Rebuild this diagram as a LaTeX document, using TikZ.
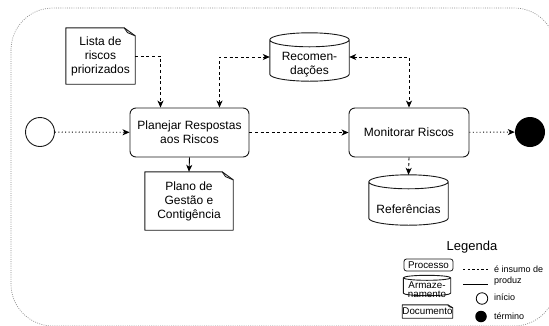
\documentclass[tikz,border=0pt]{standalone}
\usepackage{fontspec}
\setmainfont{Liberation Sans}
\usetikzlibrary{arrows.meta,calc}

% outline of a storage cylinder around node #1, cap half-height #2
\newcommand{\cylout}[2]{%
  \draw[shp] let \p1=(#1.north west), \p2=(#1.south east), \n1={(\x2-\x1)/2} in
    (\x1,\y1-#2) -- (\x1,\y2+#2)
    arc[start angle=180,end angle=360,x radius=\n1,y radius=#2]
    -- (\x2,\y1-#2)
    (\x1+\n1,\y1-#2) ellipse [x radius=\n1,y radius=#2];}

% outline of a document with a folded top-right corner, fold size #2 x #3
\newcommand{\docout}[3]{%
  \draw[shp] (#1.south west) -- (#1.north west) -- ([xshift=-#2]#1.north east)
    -- ([yshift=-#3]#1.north east) -- (#1.south east) -- cycle;
  \draw[shp] ([xshift=-#2]#1.north east) -- ([xshift=-0.7*#2,yshift=-0.6*#3]#1.north east)
    -- ([yshift=-#3]#1.north east);}

\tikzset{
  shp/.style={line width=0.9pt,draw=black!90,line join=round},
  proc/.style={draw=black!90,line width=0.9pt,rounded corners=6pt,align=center,
    font=\fontsize{12}{14}\selectfont,inner sep=0pt},
  blank/.style={inner sep=0pt,align=center},
  maintext/.style={blank,font=\fontsize{12}{14}\selectfont},
  legbox/.style={blank,font=\fontsize{9.8}{9.2}\selectfont},
  legtext/.style={blank,font=\fontsize{9}{9}\selectfont},
  tip/.style={-{Stealth[length=7pt,width=6pt,inset=2pt]}},
  bothtips/.style={{Stealth[length=7pt,width=6pt,inset=2pt]}-{Stealth[length=7pt,width=6pt,inset=2pt]}},
  dash line/.style={line width=0.9pt,dash pattern=on 3pt off 2.6pt},
  dot line/.style={line width=0.9pt,dash pattern=on 1pt off 2.4pt},
  solid line/.style={line width=0.9pt},
  frame/.style={draw=black!45,line width=0.7pt,dash pattern=on 0.9pt off 1.3pt,rounded corners=42pt},
}

\begin{document}
\begin{tikzpicture}[x=1pt,y=-1pt]
\useasboundingbox (0,0) rectangle (549,325);

% dotted surrounding frame
\draw[frame] (11,8) rectangle (556,326);

% start / end events
\node[circle,draw=black!90,line width=0.9pt,minimum size=29pt,inner sep=0pt] (start) at (40,132) {};
\node[circle,fill=black,minimum size=30pt,inner sep=0pt] (end) at (530,132) {};

% processes
\node[proc,minimum width=119pt,minimum height=49pt] (plan) at (189.5,132.5) {Planejar Respostas\\aos Riscos};
\node[proc,minimum width=120pt,minimum height=49pt] (mon) at (409,132.5) {Monitorar Riscos};

% documents
\node[maintext,minimum width=69pt,minimum height=56pt] (lista) at (100.5,56) {Lista de\\riscos\\priorizados};
\docout{lista}{11pt}{8pt}
\node[maintext,minimum width=88pt,minimum height=58pt] (plano) at (189,201) {Plano de\\Gestão e\\Contigência};
\docout{plano}{11pt}{8pt}

% storages
\node[blank,minimum width=79pt,minimum height=48pt] (rec) at (309.5,57) {};
\cylout{rec}{7pt}
\node[maintext] (rectext) at (309.5,64.5) {Recomen-\\dações};
\node[blank,minimum width=79pt,minimum height=50pt] (ref) at (408.5,200) {};
\cylout{ref}{7pt}
\node[maintext] (reftext) at (408.5,209) {Referências};

% connectors
\draw[dot line,tip] (start) -- (plan);
\draw[dash line,tip] (plan) -- (mon);
\draw[dot line,tip] (mon) -- (end);
\draw[dash line,tip] (lista.east) -| ([xshift=-29pt]plan.north);
\draw[dash line,bothtips] ([xshift=30pt]plan.north) |- (rec.west);
\draw[dash line,bothtips] (rec.east) -| (mon.north);
\draw[solid line,tip] (plan.south) -- (plano.north);
\draw[dash line,tip] (mon.south) -- (ref.north);

% legend
\node[blank,font=\fontsize{13}{14}\selectfont] (legtitle) at (472,247) {Legenda};
\node[draw=black!90,line width=0.8pt,rounded corners=2.5pt,minimum width=49pt,minimum height=12pt,
  legbox] (lproc) at (428.5,265) {Processo};
\node[blank,minimum width=47pt,minimum height=20pt] (lcyl) at (427,285.5) {};
\cylout{lcyl}{2.5pt}
\node[legbox] (lcyltext) at (427,289.8) {Armaze-\\namento};
\node[legbox,minimum width=49pt,minimum height=13pt] (ldoc) at (427.5,311.5) {Documento};
\docout{ldoc}{5pt}{3pt}

\coordinate (da) at (463,269);
\coordinate (db) at (488,269);
\draw[line width=0.7pt,dash pattern=on 2.3pt off 2.3pt] (da) -- (db);
\node[legtext,anchor=west] (linsumo) at (494,269) {é insumo de};
\coordinate (sa) at (463,284);
\coordinate (sb) at (488,284);
\draw[line width=0.8pt] (sa) -- (sb);
\node[legtext,anchor=west] (lproduz) at (494,281.5) {produz};
\node[circle,draw=black,line width=0.8pt,minimum size=11.5pt,inner sep=0pt] (lstart) at (482,298.5) {};
\node[legtext,anchor=west] (linicio) at (494,297.5) {início};
\node[circle,fill=black,minimum size=11.5pt,inner sep=0pt] (lend) at (481,316.5) {};
\node[legtext,anchor=west] (ltermino) at (494,316.5) {término};
\end{tikzpicture}
\end{document}
